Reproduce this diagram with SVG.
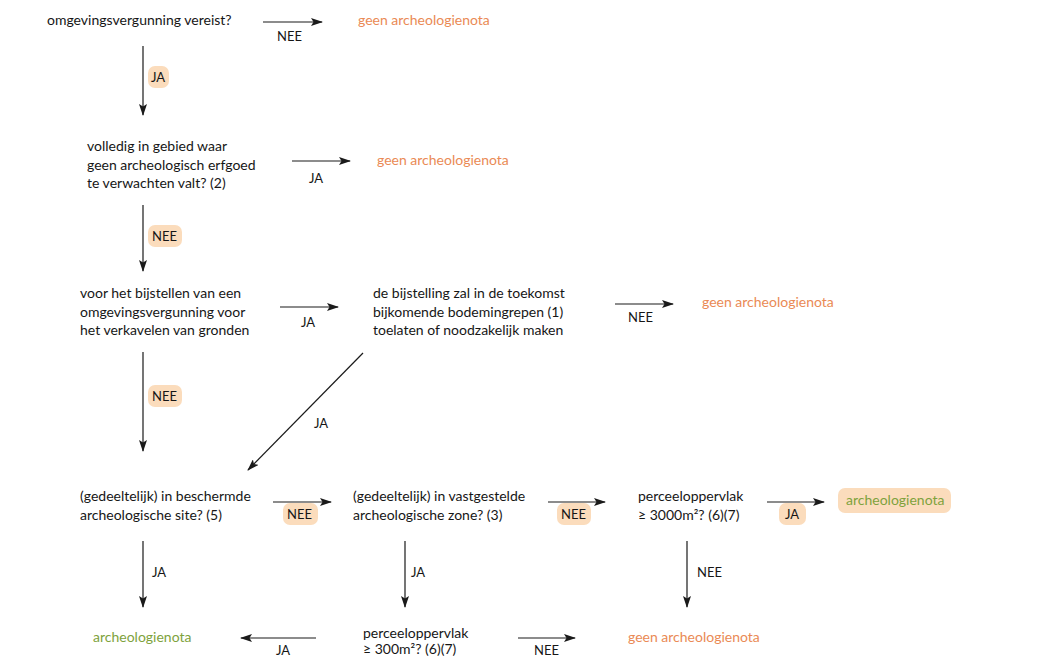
<svg xmlns="http://www.w3.org/2000/svg" width="1052" height="657" viewBox="0 0 1052 657">
<defs>
<marker id="ah" viewBox="0 0 12 8" refX="11" refY="4" markerWidth="12" markerHeight="8" markerUnits="userSpaceOnUse" orient="auto">
<path d="M0,0 L12,4 L0,8 L2.5,4 Z" fill="#1a1a1a"/>
</marker>
</defs>
<style>
text{font-family:Lato,"Open Sans","Liberation Sans",sans-serif;font-size:14px;fill:#161616}
.lbl{font-size:13px}
.no{fill:#ea8a55}
.yes{fill:#7ea23c}
.hl{fill:#fbdcbc}
.c line{stroke:#1a1a1a;stroke-width:1.2;marker-end:url(#ah)}
</style>
<rect width="1052" height="657" fill="#fff"/>
<g id="n1"><text x="47" y="25">omgevingsvergunning vereist?</text></g>
<g id="r1"><text class="no" x="358" y="25">geen archeologienota</text></g>
<g id="n2"><text x="87" y="151">volledig in gebied waar</text><text x="87" y="169.5">geen archeologisch erfgoed</text><text x="87" y="188">te verwachten valt? (2)</text></g>
<g id="r2"><text class="no" x="377" y="165">geen archeologienota</text></g>
<g id="n3"><text x="80" y="298">voor het bijstellen van een</text><text x="80" y="316.5">omgevingsvergunning voor</text><text x="80" y="335">het verkavelen van gronden</text></g>
<g id="n4"><text x="373" y="298">de bijstelling zal in de toekomst</text><text x="373" y="316.5">bijkomende bodemingrepen (1)</text><text x="373" y="335">toelaten of noodzakelijk maken</text></g>
<g id="r3"><text class="no" x="702" y="307">geen archeologienota</text></g>
<g id="n5"><text x="80" y="501">(gedeeltelijk) in beschermde</text><text x="80" y="520">archeologische site? (5)</text></g>
<g id="n6"><text x="353" y="501">(gedeeltelijk) in vastgestelde</text><text x="353" y="520">archeologische zone? (3)</text></g>
<g id="n7"><text x="638" y="501">perceeloppervlak</text><text x="638" y="520">≥ 3000m²? (6)(7)</text></g>
<g id="r4"><rect class="hl" x="838" y="488" width="113" height="25" rx="7"/><text class="yes" x="846" y="505">archeologienota</text></g>
<g id="r5"><text class="yes" x="93" y="642">archeologienota</text></g>
<g id="n8"><text x="363" y="638">perceeloppervlak</text><text x="363" y="654">≥ 300m²? (6)(7)</text></g>
<g id="r6"><text class="no" x="628" y="642">geen archeologienota</text></g>
<g class="c" id="connectors">
<line x1="263" y1="22" x2="322" y2="22"/>
<line x1="143" y1="46" x2="143" y2="115"/>
<line x1="292" y1="161" x2="350" y2="161"/>
<line x1="143" y1="205" x2="143" y2="271"/>
<line x1="280" y1="307" x2="338" y2="307"/>
<line x1="615" y1="304" x2="673" y2="304"/>
<line x1="143" y1="352" x2="143" y2="451"/>
<line x1="363" y1="353" x2="248" y2="470"/>
<line x1="273" y1="502" x2="331" y2="502"/>
<line x1="548" y1="502" x2="605" y2="502"/>
<line x1="767" y1="502" x2="824" y2="502"/>
<line x1="143" y1="541" x2="143" y2="607"/>
<line x1="405" y1="541" x2="405" y2="607"/>
<line x1="687" y1="541" x2="687" y2="607"/>
<line x1="316" y1="638" x2="241" y2="638"/>
<line x1="518" y1="638" x2="575" y2="638"/>
</g>
<g id="labels">
<text class="lbl" x="277" y="41">NEE</text>
<rect class="hl" x="148" y="66" width="21" height="22" rx="7"/><text class="lbl" x="151" y="82">JA</text>
<text class="lbl" x="309" y="183">JA</text>
<rect class="hl" x="148" y="225" width="34" height="22" rx="7"/><text class="lbl" x="152" y="241">NEE</text>
<text class="lbl" x="301" y="327">JA</text>
<text class="lbl" x="628" y="322">NEE</text>
<rect class="hl" x="148" y="385" width="34" height="22" rx="7"/><text class="lbl" x="152" y="401">NEE</text>
<text class="lbl" x="314" y="428">JA</text>
<rect class="hl" x="283" y="503" width="35" height="22" rx="7"/><text class="lbl" x="287" y="519">NEE</text>
<rect class="hl" x="557" y="503" width="34" height="22" rx="7"/><text class="lbl" x="561" y="519">NEE</text>
<rect class="hl" x="779" y="503" width="27" height="22" rx="7"/><text class="lbl" x="785" y="519">JA</text>
<text class="lbl" x="152" y="577">JA</text>
<text class="lbl" x="411" y="577">JA</text>
<text class="lbl" x="697" y="577">NEE</text>
<text class="lbl" x="276" y="655">JA</text>
<text class="lbl" x="534" y="655">NEE</text>
</g>
</svg>
